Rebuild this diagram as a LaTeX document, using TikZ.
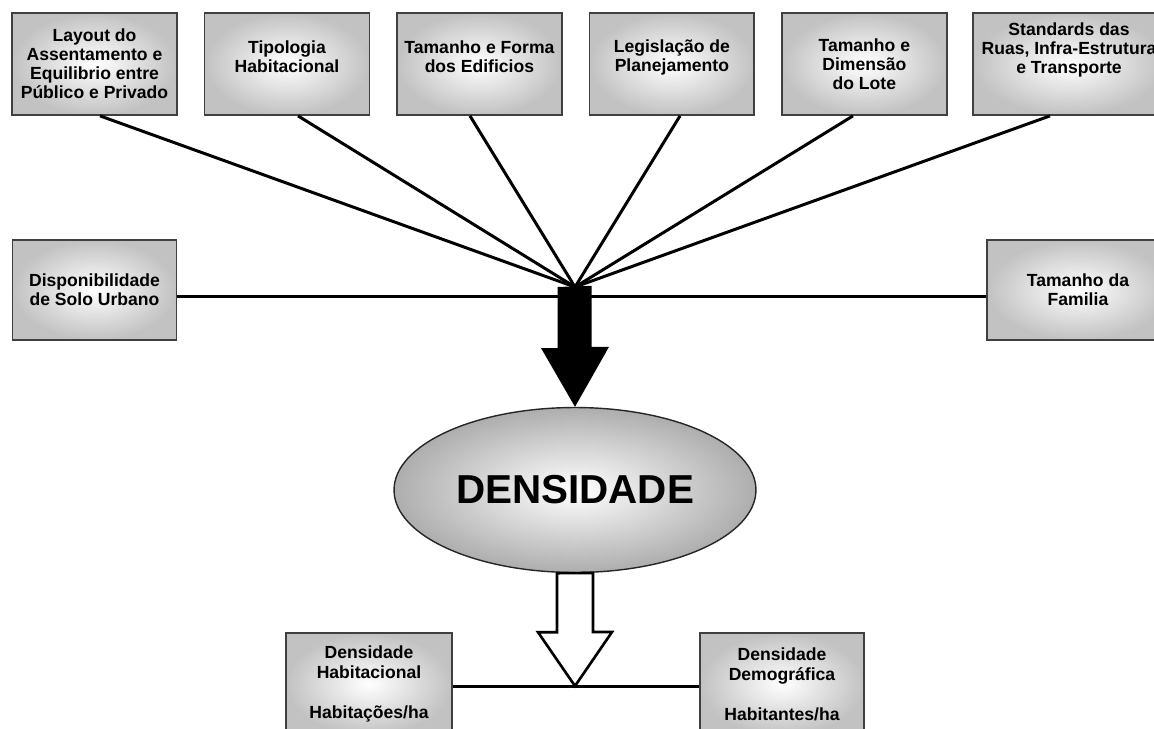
\documentclass[tikz,border=0pt]{standalone}
\usepackage{fontspec}
\setmainfont{Liberation Sans}
\usetikzlibrary{shapes.geometric}
\begin{document}
\begin{tikzpicture}[x=0.02cm, y=-0.02cm, node distance=3.85cm]
\tikzset{factor/.style = {rectangle, draw=black!75, line width=1pt, inner color=white, outer color=black!24, minimum width=3.3cm, minimum height=2.04cm, align=center, font=\fontsize{10}{10.8}\selectfont\bfseries}}
\tikzset{bar/.style = {line width=1.7pt}}
\useasboundingbox (0,0) rectangle (1154,728);
% fatores
\node (lay)[factor] at (94.5,64) {Layout do\\Assentamento e\\Equilibrio entre\\Público e Privado};
\node (tip)[factor, right of=lay, text depth=0.3cm] {Tipologia\\Habitacional};
\node (tam)[factor, right of=tip, text depth=0.3cm] {Tamanho e Forma\\dos Edificios};
\node (leg)[factor, right of=tam, text depth=0.35cm] {Legislação de\\Planejamento};
\node (lote)[factor, right of=leg] {Tamanho e\\Dimensão\\do Lote};
\node (std)[factor, minimum width=3.84cm, text depth=0.62cm] at (1069,64) {Standards das\\Ruas, Infra-Estrutura\\e Transporte};
\node (disp)[factor, minimum width=3.28cm, minimum height=2cm, below of=lay, node distance=4.52cm] {Disponibilidade\\de Solo Urbano};
\node (fam)[factor, minimum width=3.64cm, minimum height=2cm] at (1078,290) {Tamanho da\\Familia};
% densidade
\node (dens)[ellipse, draw=black!85, line width=0.8pt, inner color=white, outer color=black!32, minimum width=7.24cm, minimum height=3.3cm, font=\fontsize{23}{26}\selectfont\bfseries] at (575,490) {DENSIDADE};
\node (hab)[factor, minimum width=3.32cm, font=\fontsize{10}{11.4}\selectfont\bfseries] at (369,684) {Densidade\\Habitacional\\[11.4pt]Habitações/ha};
\node (dem)[factor, minimum width=3.28cm, font=\fontsize{10}{11.4}\selectfont\bfseries] at (782,684) {Densidade\\Demográfica\\[11.4pt]Habitantes/ha};
\coordinate (hub) at (575,287);
\coordinate (mid) at (575,296);
\coordinate (join) at (575,686);
\foreach \n/\px in {lay/100, tip/298, tam/470, leg/680, lote/853, std/1050}
  \draw[bar] (\px,0 |- \n.south) -- (hub);
\draw[bar] (disp.east |- mid) -- (fam.west |- mid);
\fill[black] (hub) ++(-17.5,0) -- ++(0,61) -- ++(-16.5,0) -- (dens.north) -- ++(34,-60) -- ++(-17.5,0) -- ++(0,-61) -- cycle;
\draw[bar] (hab.east |- join) -- (dem.west |- join);
\draw[line width=1.5pt, fill=white, line join=miter] (dens.south) ++(-18,0) -- ++(0,59) -- ++(-19,0) -- (join) -- ++(37,-54) -- ++(-19,0) -- ++(0,-59) -- cycle;
\end{tikzpicture}
\end{document}
